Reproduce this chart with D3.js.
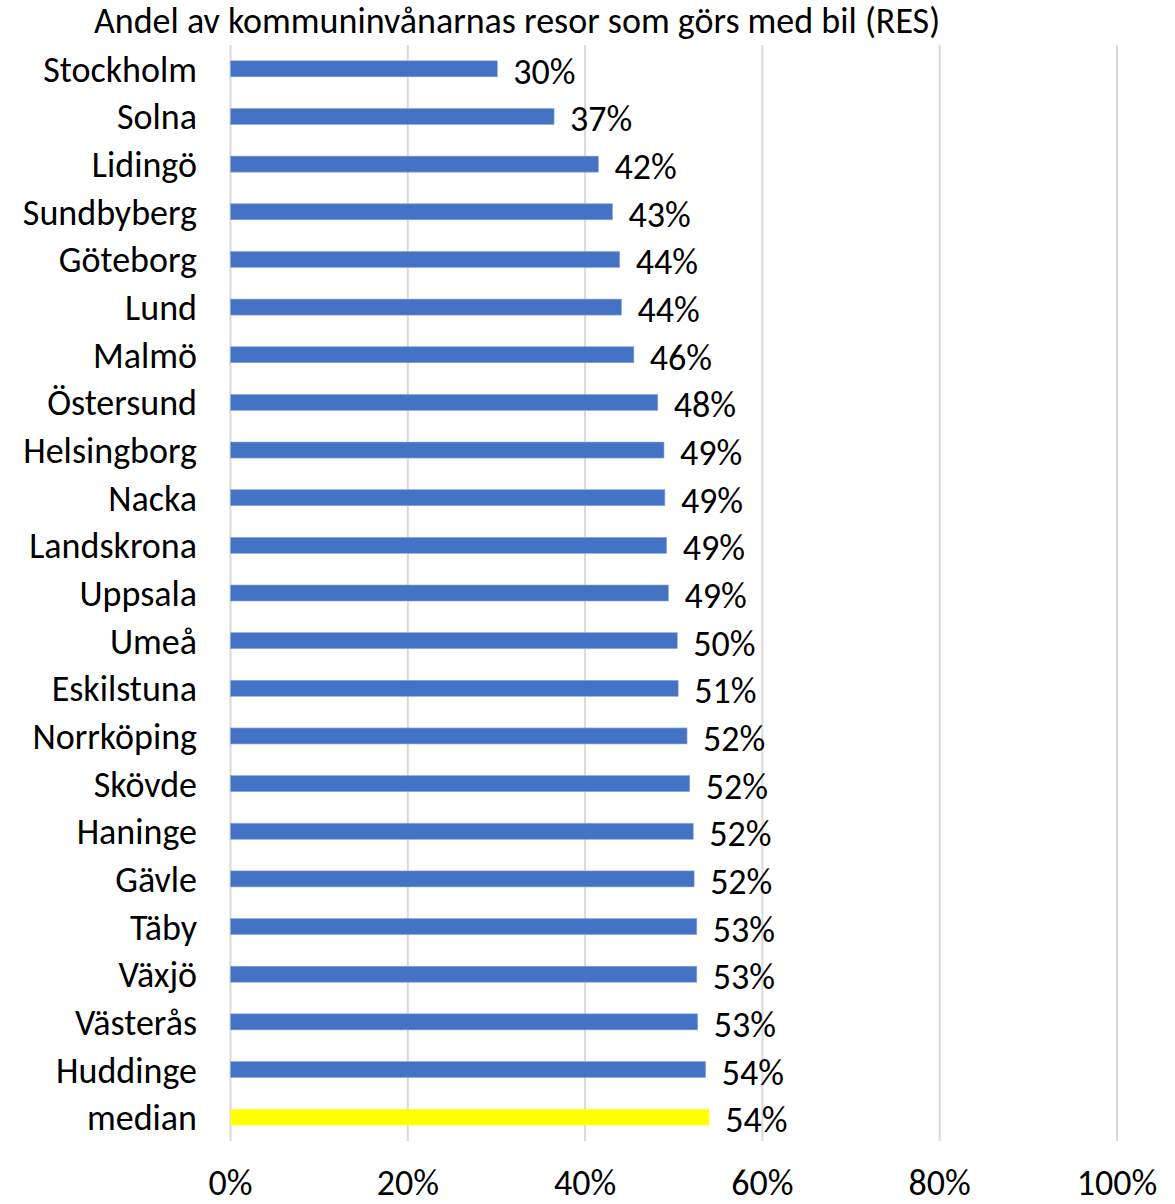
<!DOCTYPE html>
<html>
<head>
<meta charset="utf-8">
<script src="https://cdn.jsdelivr.net/npm/d3@7"></script>
<style>
  html, body { margin: 0; padding: 0; background: #ffffff; }
  svg { display: block; }
  text { font-family: Calibri, Carlito, Lato, sans-serif; fill: #000; }
</style>
</head>
<body>
<svg id="chart" width="1175" height="1204"></svg>
<script>
const title = "Andel av kommuninvånarnas resor som görs med bil (RES)";
const categories = ["Stockholm","Solna","Lidingö","Sundbyberg","Göteborg","Lund","Malmö","Östersund","Helsingborg","Nacka","Landskrona","Uppsala","Umeå","Eskilstuna","Norrköping","Skövde","Haninge","Gävle","Täby","Växjö","Västerås","Huddinge","median"];
const values = [0.301,0.365,0.415,0.431,0.439,0.441,0.455,0.482,0.489,0.490,0.492,0.494,0.504,0.505,0.515,0.518,0.522,0.523,0.526,0.526,0.527,0.536,0.540];
const valueLabels = ["30%","37%","42%","43%","44%","44%","46%","48%","49%","49%","49%","49%","50%","51%","52%","52%","52%","52%","53%","53%","53%","54%","54%"];
const tickValues = [0,0.2,0.4,0.6,0.8,1.0];
const tickLabels = ["0%","20%","40%","60%","80%","100%"];
const highlight = "median";

const svg = d3.select("#chart");
const fs = 36;

const x = d3.scaleLinear().domain([0,1]).range([230.5,1117]);
const y = d3.scaleBand().domain(categories).range([45,1141]).paddingInner(0.664).paddingOuter(0.332);

// gridlines
svg.append("g").selectAll("line").data(tickValues).join("line")
  .attr("x1", d => x(d)).attr("x2", d => x(d))
  .attr("y1", 45).attr("y2", 1141)
  .attr("stroke", "#d9d9d9").attr("stroke-width", 2);

// title
svg.append("text").attr("x", 517).attr("y", 33).attr("text-anchor","middle")
  .style("font-size", fs + "px").text(title);

// bars
svg.append("g").selectAll("rect").data(categories).join("rect")
  .attr("x", x(0)).attr("y", d => y(d))
  .attr("width", (d,i) => x(values[i]) - x(0))
  .attr("height", y.bandwidth())
  .attr("fill", d => d === highlight ? "#FFFF00" : "#4472C4")
  .attr("stroke", d => d === highlight ? "none" : "#8fa9dc")
  .attr("stroke-width", 0.6);

// value labels
svg.append("g").selectAll("text").data(categories).join("text")
  .attr("x", (d,i) => x(values[i]) + 16)
  .attr("y", d => y(d) + y.bandwidth()/2 + 3)
  .attr("dominant-baseline","central")
  .style("font-size", fs + "px")
  .text((d,i) => valueLabels[i]);

// category axis labels
svg.append("g").selectAll("text").data(categories).join("text")
  .attr("x", 197)
  .attr("y", d => y(d) + y.bandwidth()/2 + 1)
  .attr("text-anchor","end")
  .attr("dominant-baseline","central")
  .style("font-size", fs + "px")
  .text(d => d);

// x axis tick labels
svg.append("g").selectAll("text").data(tickValues).join("text")
  .attr("x", d => x(d))
  .attr("y", 1195)
  .attr("text-anchor","middle")
  .style("font-size", fs + "px")
  .text((d,i) => tickLabels[i]);
</script>
</body>
</html>
